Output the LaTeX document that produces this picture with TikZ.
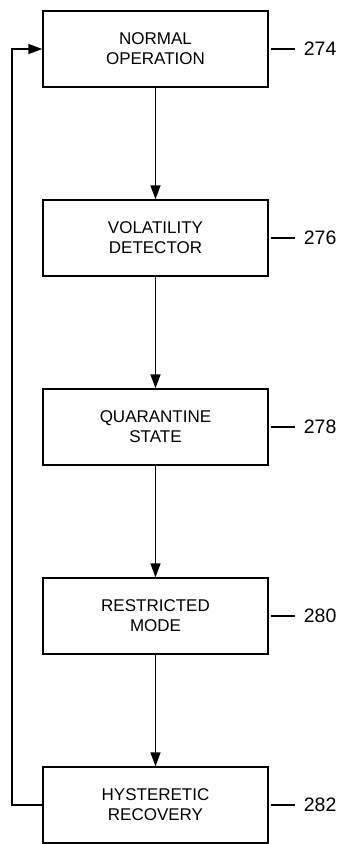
\documentclass[tikz,border=0pt]{standalone}
\usepackage{fontspec}
\setmainfont{Liberation Sans}
\usetikzlibrary{arrows.meta}
\begin{document}
\begin{tikzpicture}[x=1pt,y=-1pt,
  box/.style={draw, line width=1.4pt, minimum width=225pt, minimum height=76pt, inner sep=0pt, align=center, font=\fontsize{17}{20}\selectfont},
  lbl/.style={font=\fontsize{19.5}{22}\selectfont, anchor=west, inner sep=0pt},
  conn/.style={line width=1.4pt},
  arr/.style={conn, -{Triangle[length=14pt,width=10pt]}}]
\useasboundingbox (0,0) rectangle (341,844);
\node[box] (b1) at (155.5,49) {NORMAL\\OPERATION};
\node[box] (b2) at (155.5,238) {VOLATILITY\\DETECTOR};
\node[box] (b3) at (155.5,427) {QUARANTINE\\STATE};
\node[box] (b4) at (155.5,616) {RESTRICTED\\MODE};
\node[box] (b5) at (155.5,805) {HYSTERETIC\\RECOVERY};
\foreach \b/\t in {b1/274,b2/276,b3/278,b4/280,b5/282}{
  \coordinate (\b l1) at ([xshift=2pt]\b.east);
  \coordinate (\b l2) at ([xshift=26pt]\b.east);
  \draw[conn] (\b l1) -- (\b l2);
  \node[lbl] (\b t) at ([xshift=35pt]\b.east) {\t};
}
\draw[arr] (b1) -- (b2);
\draw[arr] (b2) -- (b3);
\draw[arr] (b3) -- (b4);
\draw[arr] (b4) -- (b5);
\coordinate (lx) at (12,0);
\draw[arr] (b5.west) -- (b5.west -| lx) -- (b1.west -| lx) -- (b1.west);
\end{tikzpicture}
\end{document}
